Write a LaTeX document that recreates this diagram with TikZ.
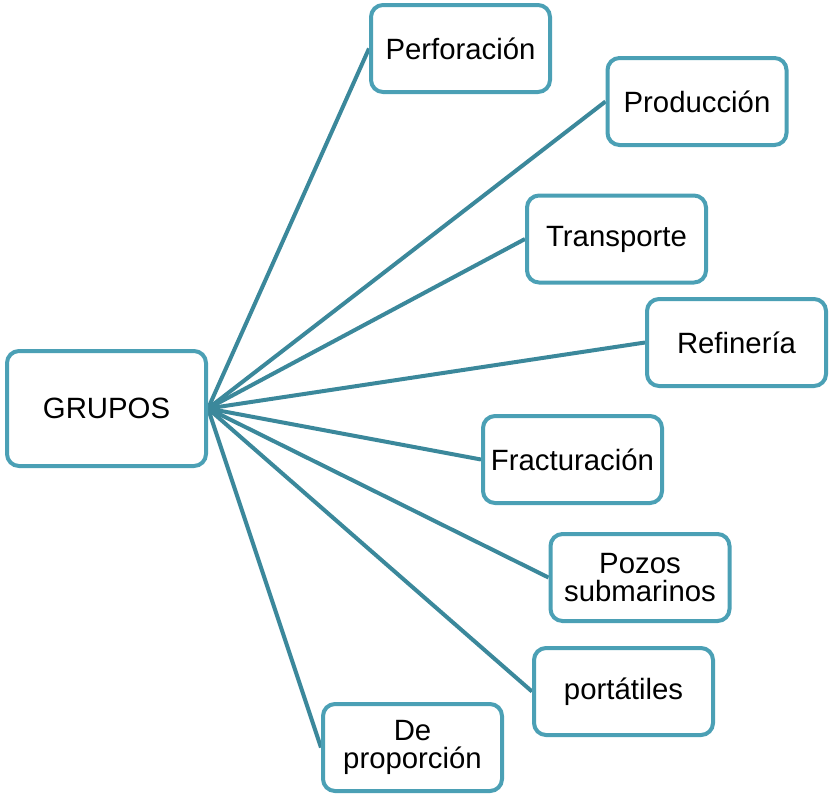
\documentclass[tikz,border=0pt]{standalone}
\usepackage{fontspec}
\setmainfont{Liberation Sans}
\usetikzlibrary{backgrounds}
\definecolor{boxborder}{RGB}{75,160,181}
\definecolor{linkline}{RGB}{59,136,155}
\begin{document}
\begin{tikzpicture}[x=0.75pt,y=-0.75pt,
  box/.style={draw=boxborder,line width=3pt,rounded corners=9pt,fill=white,
    minimum width=179*0.75pt,minimum height=87*0.75pt,inner sep=2pt,
    align=center,font=\fontsize{22pt}{21.5pt}\selectfont},
  link/.style={draw=linkline,line width=3pt}]
\useasboundingbox (0,0) rectangle (830,796);
\node[box,minimum width=199*0.75pt,minimum height=115*0.75pt] (g) at (106.5,408.5) {GRUPOS};
\node[box] (perf) at (460.5,48.5) {Perforación};
\node[box] (prod) at (697,101.5) {Producción};
\node[box] (tran) at (616.5,239) {Transporte};
\node[box] (ref) at (736.5,342.5) {Refinería};
\node[box] (frac) at (572.5,459.5) {Fracturación};
\node[box] (pozo) at (640,577.5) {Pozos\\submarinos};
\node[box] (port) at (623.5,691.5) {portátiles};
\node[box] (dep) at (412.5,747.5) {De\\proporción};
\begin{scope}[on background layer]
\foreach \t in {perf,prod,tran,ref,frac,pozo,port,dep}
  \draw[link] (g.east) -- (\t.west);
\end{scope}
\end{tikzpicture}
\end{document}
